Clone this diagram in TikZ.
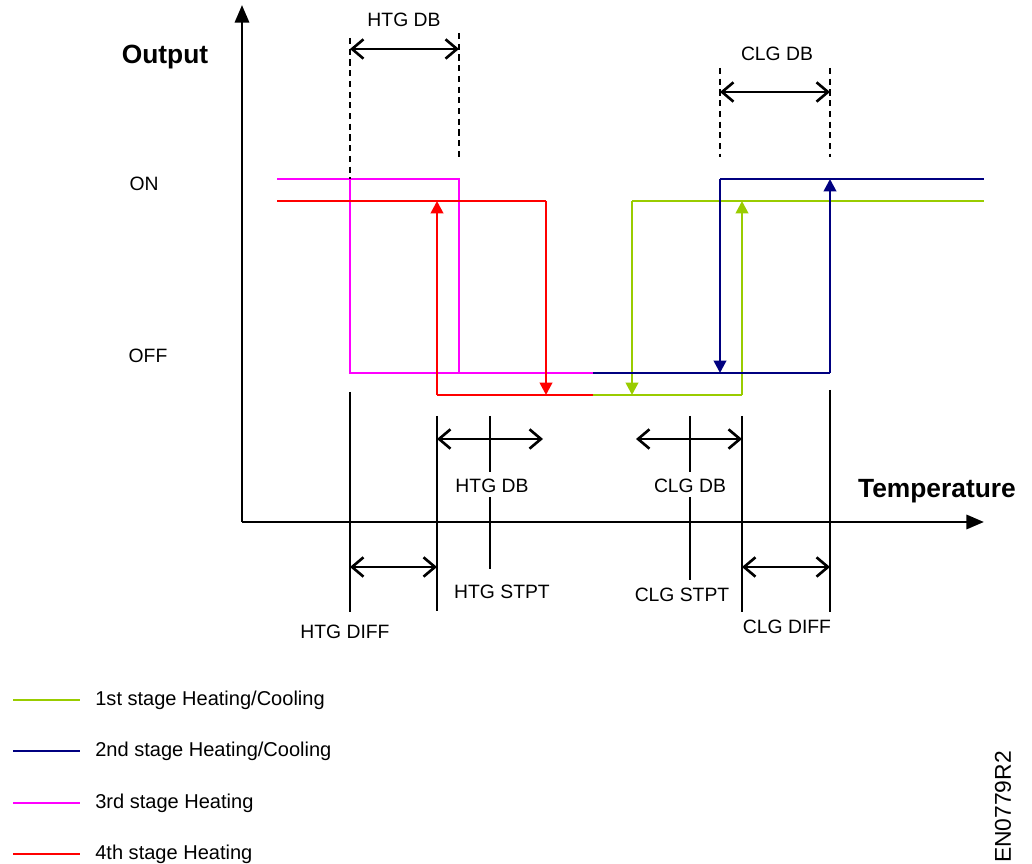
\documentclass[tikz,border=0pt]{standalone}
\usepackage{fontspec}
\setmainfont{Liberation Sans}
\usetikzlibrary{arrows.meta}

\definecolor{stageone}{RGB}{153,204,0}
\definecolor{stagetwo}{RGB}{0,0,128}
\definecolor{stagethree}{RGB}{255,0,255}
\definecolor{stagefour}{RGB}{255,0,0}

\tikzset{
  axis/.style={line width=1.7pt, -{Triangle[length=10pt,width=8pt]}},
  stage/.style={line width=1.5pt},
  flow/.style={stage, -{Triangle[length=7pt,width=7pt]}},
  dimline/.style={line width=1.4pt, {Straight Barb[length=6.5pt,width=11pt,line width=1.5pt]}-{Straight Barb[length=6.5pt,width=11pt,line width=1.5pt]}},
  guide/.style={line width=1.4pt},
  dashguide/.style={line width=1.5pt, dash pattern=on 3.5pt off 2.6pt},
  lbl/.style={inner sep=0pt, font=\fontsize{11}{13}\selectfont},
  big/.style={inner sep=0pt, font=\fontsize{15}{17}\selectfont\bfseries},
  legend/.style={inner sep=0pt, anchor=west, font=\fontsize{11.4}{13}\selectfont}
}

\begin{document}
\begin{tikzpicture}[x=0.02cm, y=-0.02cm]
	\useasboundingbox (0,0) rectangle (1032,864);
	% axes
	\coordinate (o) at (242,522);
	\coordinate (ytop) at (242,5);
	\coordinate (xend) at (984,522);
	\draw[axis] (o) -- (ytop);
	\draw[axis] (o) -- (xend);
	\node[big] (output) at (165,57) {Output};
	\node[big] (temp) at (937,491) {Temperature};
	\node[lbl] (on) at (144,184) {ON};
	\node[lbl] (off) at (148,356) {OFF};

	% 3rd stage heating
	\draw[stage, stagethree] (277,179) -| (459,373);
	\draw[stage, stagethree] (350,179) -- (350,373) -- (593,373);
	% 4th stage heating
	\draw[stage, stagefour] (277,201) -- (546,201);
	\draw[flow, stagefour] (546,201) -- (546,395);
	\draw[stage, stagefour] (437,395) -- (593,395);
	\draw[flow, stagefour] (437,395) -- (437,201);
	% 1st stage heating/cooling
	\draw[stage, stageone] (593,395) -- (742,395);
	\draw[flow, stageone] (742,395) -- (742,201);
	\draw[stage, stageone] (632,201) -- (984,201);
	\draw[flow, stageone] (632,201) -- (632,395);
	% 2nd stage heating/cooling
	\draw[stage, stagetwo] (593,373) -- (830,373);
	\draw[flow, stagetwo] (830,373) -- (830,179);
	\draw[stage, stagetwo] (720,179) -- (984,179);
	\draw[flow, stagetwo] (720,179) -- (720,373);

	% deadbands on top
	\draw[dashguide] (350,38) -- (350,179);
	\draw[dashguide] (459,33) -- (459,158);
	\draw[dimline] (350,49) -- (459,49);
	\node[lbl] (htgdbtop) at (404,20) {HTG DB};
	\draw[dashguide] (720,68) -- (720,157);
	\draw[dashguide] (830,68) -- (830,157);
	\draw[dimline] (720,92) -- (830,92);
	\node[lbl] (clgdbtop) at (777,54) {CLG DB};

	% setpoints and differentials
	\draw[guide] (350,392) -- (350,612);
	\draw[guide] (437,416) -- (437,611);
	\draw[guide] (742,416) -- (742,612);
	\draw[guide] (830,390) -- (830,612);
	\draw[guide] (490,416) -- (490,472);
	\draw[guide] (490,497) -- (490,569);
	\draw[guide] (690,416) -- (690,472);
	\draw[guide] (690,497) -- (690,580);
	\draw[dimline] (437,439) -- (543,439);
	\draw[dimline] (636,439) -- (742,439);
	\draw[dimline] (350,567) -- (437,567);
	\draw[dimline] (742,567) -- (830,567);
	\node[lbl] (htgdb) at (492,486) {HTG DB};
	\node[lbl] (clgdb) at (690,486) {CLG DB};
	\node[lbl] (htgstpt) at (502,592) {HTG STPT};
	\node[lbl] (clgstpt) at (682,595) {CLG STPT};
	\node[lbl] (htgdiff) at (345,632) {HTG DIFF};
	\node[lbl] (clgdiff) at (787,627) {CLG DIFF};

	% legend
	\draw[stage, stageone] (13,700) -- (80,700);
	\node[legend] (l1) at (95,700) {1st stage Heating/Cooling};
	\draw[stage, stagetwo] (13,751) -- (80,751);
	\node[legend] (l2) at (95,751) {2nd stage Heating/Cooling};
	\draw[stage, stagethree] (13,803) -- (80,803);
	\node[legend] (l3) at (95,803) {3rd stage Heating};
	\draw[stage, stagefour] (13,854) -- (80,854);
	\node[legend] (l4) at (95,854) {4th stage Heating};

	\node[lbl, rotate=90, font=\fontsize{13}{15}\selectfont] (code) at (1003,807) {EN0779R2};
\end{tikzpicture}
\end{document}
